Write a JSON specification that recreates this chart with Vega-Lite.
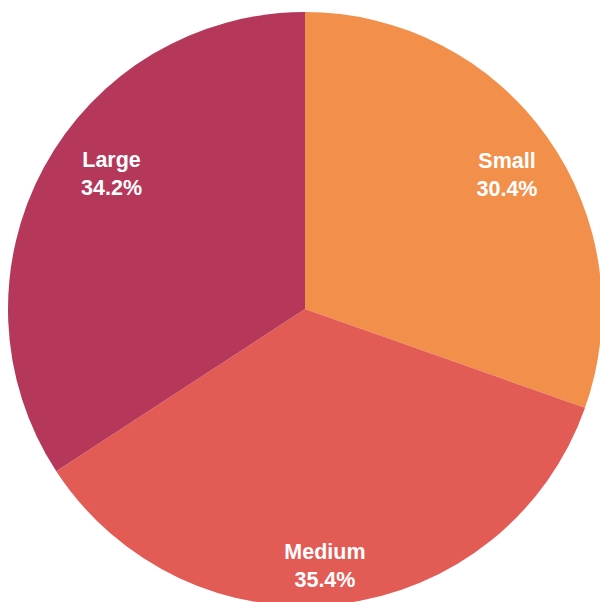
{
  "$schema": "https://vega.github.io/schema/vega-lite/v6.json",
  "width": 610,
  "height": 618,
  "padding": 0,
  "autosize": "none",
  "background": "white",
  "view": {"stroke": null},
  "data": {"values": [
    {"size": "Small", "share": 30.4, "rank": 1, "lines": ["Small", "30.4%"]},
    {"size": "Medium", "share": 35.4, "rank": 2, "lines": ["Medium", "35.4%"]},
    {"size": "Large", "share": 34.2, "rank": 3, "lines": ["Large", "34.2%"]}
  ]},
  "encoding": {
    "theta": {"field": "share", "type": "quantitative", "stack": true},
    "order": {"field": "rank", "type": "quantitative"},
    "color": {"field": "size", "type": "nominal", "legend": null,
      "scale": {"domain": ["Small", "Medium", "Large"], "range": ["#F2904B", "#E25B55", "#B5375A"]}}
  },
  "layer": [
    {"mark": {"type": "arc", "outerRadius": 297}},
    {"mark": {"type": "text", "radius": 245, "dx": 2, "dy": -5, "lineHeight": 28, "font": "Liberation Sans", "fontWeight": "bold", "fontSize": 21.5, "baseline": "middle"},
     "encoding": {"text": {"condition": {"test": "datum.size === 'Small'", "field": "lines"}, "value": ""}, "color": {"value": "white"}}},
    {"mark": {"type": "text", "radius": 260, "dx": -11, "dy": -14, "lineHeight": 28, "font": "Liberation Sans", "fontWeight": "bold", "fontSize": 21.5, "baseline": "middle"},
     "encoding": {"text": {"condition": {"test": "datum.size === 'Medium'", "field": "lines"}, "value": ""}, "color": {"value": "white"}}},
    {"mark": {"type": "text", "radius": 220, "dx": 0, "dy": -43, "lineHeight": 28, "font": "Liberation Sans", "fontWeight": "bold", "fontSize": 21.5, "baseline": "middle"},
     "encoding": {"text": {"condition": {"test": "datum.size === 'Large'", "field": "lines"}, "value": ""}, "color": {"value": "white"}}}
  ]
}
